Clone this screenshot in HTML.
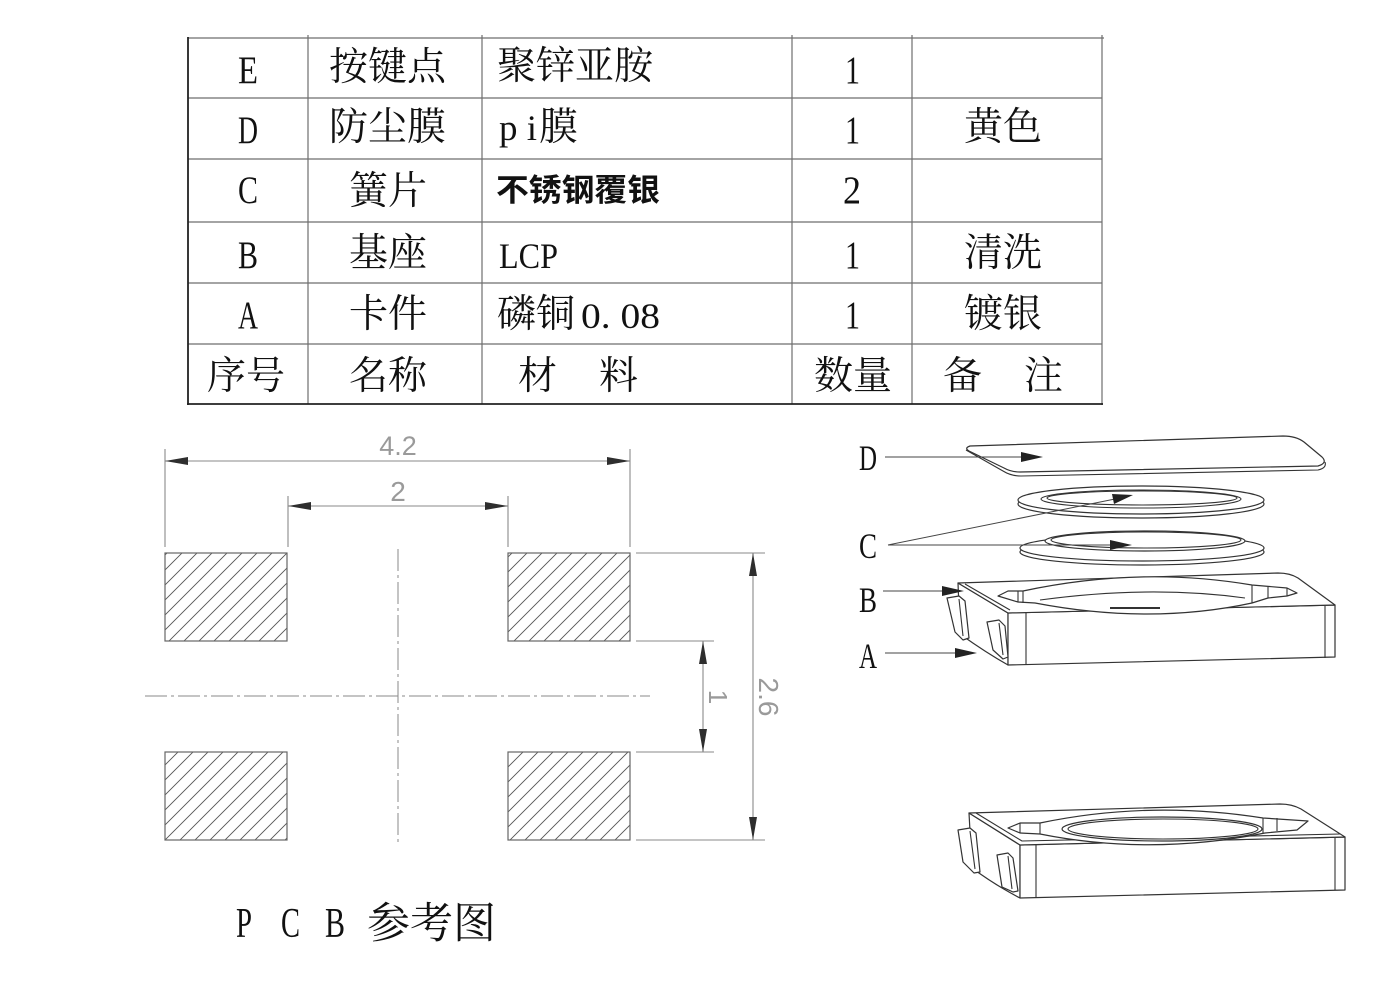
<!DOCTYPE html>
<html>
<head>
<meta charset="utf-8">
<style>
html,body{margin:0;padding:0;background:#fff;}
svg{display:block;}
.t{font-family:"Liberation Serif","Noto Serif CJK SC",serif;fill:#111;}
.cj{font-family:"Liberation Serif","Noto Serif CJK SC",serif;fill:#111;font-size:39px;}
.dim{font-family:"Liberation Sans",sans-serif;fill:#9a9a9a;}
.ln{stroke:#333;stroke-width:1.2;fill:#fff;stroke-linejoin:round;}
.lo{stroke:#333;stroke-width:1.1;fill:none;stroke-linejoin:round;}
</style>
</head>
<body>
<svg width="1400" height="1000" viewBox="0 0 1400 1000" xmlns="http://www.w3.org/2000/svg">
<defs>
<pattern id="hatch" patternUnits="userSpaceOnUse" width="15" height="15">
<path d="M0,15 L15,0 M-3,3 L3,-3 M12,18 L18,12" stroke="#555" stroke-width="0.9"/>
</pattern>
</defs>
<rect width="1400" height="1000" fill="#fff"/>

<!-- TABLE -->
<g stroke="#6e6e6e" stroke-width="1.2">
<line x1="188" y1="38" x2="1104" y2="38"/>
<line x1="188" y1="98" x2="1102" y2="98"/>
<line x1="188" y1="159" x2="1102" y2="159"/>
<line x1="188" y1="222" x2="1102" y2="222"/>
<line x1="188" y1="283" x2="1102" y2="283"/>
<line x1="188" y1="344" x2="1102" y2="344"/>
<line x1="308" y1="35" x2="308" y2="404"/>
<line x1="482" y1="35" x2="482" y2="404"/>
<line x1="792" y1="35" x2="792" y2="404"/>
<line x1="912" y1="35" x2="912" y2="404"/>
<line x1="1102" y1="35" x2="1102" y2="405"/>
</g>
<line x1="188" y1="37" x2="188" y2="405" stroke="#222" stroke-width="1.8"/>
<line x1="187" y1="404" x2="1103" y2="404" stroke="#222" stroke-width="1.8"/>

<!-- col1 letters -->
<g class="t" style="font-size:39px">
<text x="238" y="83" textLength="20" lengthAdjust="spacingAndGlyphs">E</text>
<text x="238" y="143" textLength="20" lengthAdjust="spacingAndGlyphs">D</text>
<text x="238" y="203" textLength="20" lengthAdjust="spacingAndGlyphs">C</text>
<text x="238" y="268" textLength="20" lengthAdjust="spacingAndGlyphs">B</text>
<text x="238" y="328" textLength="20" lengthAdjust="spacingAndGlyphs">A</text>
<!-- quantities -->
<text x="845" y="83" textLength="15" lengthAdjust="spacingAndGlyphs">1</text>
<text x="845" y="143" textLength="15" lengthAdjust="spacingAndGlyphs">1</text>
<text x="843" y="203" textLength="18" lengthAdjust="spacingAndGlyphs">2</text>
<text x="845" y="268" textLength="15" lengthAdjust="spacingAndGlyphs">1</text>
<text x="845" y="328" textLength="15" lengthAdjust="spacingAndGlyphs">1</text>
</g>
<g class="t" style="font-size:36px">
<!-- material latin -->
<text x="499" y="140" textLength="38" lengthAdjust="spacingAndGlyphs">p i</text>
<text x="499" y="268" textLength="59" lengthAdjust="spacingAndGlyphs">LCP</text>
<text x="581" y="328" textLength="79" lengthAdjust="spacingAndGlyphs">0. 08</text>
</g>

<g class="cj">
<text x="329" y="80">按键点</text>
<text x="329" y="140">防尘膜</text>
<text x="349" y="204">簧片</text>
<text x="349" y="266">基座</text>
<text x="349" y="327">卡件</text>
<text x="207" y="389">序号</text>
<text x="349" y="389">名称</text>

<text x="497" y="79">聚锌亚胺</text>
<text x="539" y="140">膜</text>
<text x="497" y="327">磷铜</text>
<text x="518" y="389">材</text>
<text x="599" y="389">料</text>

<text x="814" y="389">数量</text>

<text x="964" y="140">黄色</text>
<text x="964" y="266">清洗</text>
<text x="964" y="327">镀银</text>
<text x="943" y="389">备</text>
<text x="1024" y="389">注</text>
</g>
<text x="496" y="201" style="font-family:'Liberation Sans','Noto Sans CJK SC',sans-serif;font-weight:bold;font-size:31px" fill="#111" textLength="164" lengthAdjust="spacingAndGlyphs">不锈钢覆银</text>

<!-- PCB DRAWING -->
<g stroke="#666" stroke-width="1.2" fill="url(#hatch)">
<rect x="165" y="553" width="122" height="88"/>
<rect x="508" y="553" width="122" height="88"/>
<rect x="165" y="752" width="122" height="88"/>
<rect x="508" y="752" width="122" height="88"/>
</g>
<g stroke="#8a8a8a" stroke-width="1" stroke-dasharray="22 4 3 4">
<line x1="398" y1="549" x2="398" y2="843"/>
<line x1="145" y1="696" x2="650" y2="696"/>
</g>
<g stroke="#8a8a8a" stroke-width="1.1">
<line x1="165" y1="449" x2="165" y2="547"/>
<line x1="630" y1="449" x2="630" y2="547"/>
<line x1="165" y1="461" x2="630" y2="461"/>
<line x1="288" y1="496" x2="288" y2="547"/>
<line x1="508" y1="496" x2="508" y2="547"/>
<line x1="288" y1="506" x2="508" y2="506"/>
<line x1="636" y1="553" x2="765" y2="553"/>
<line x1="636" y1="840" x2="765" y2="840"/>
<line x1="753" y1="553" x2="753" y2="840"/>
<line x1="636" y1="641" x2="714" y2="641"/>
<line x1="636" y1="752" x2="714" y2="752"/>
<line x1="703" y1="641" x2="703" y2="752"/>
</g>
<g fill="#2e2e2e">
<polygon points="165,461 188,457 188,465"/>
<polygon points="630,461 607,457 607,465"/>
<polygon points="288,506 311,502 311,510"/>
<polygon points="508,506 485,502 485,510"/>
<polygon points="753,553 749,576 757,576"/>
<polygon points="753,840 749,817 757,817"/>
<polygon points="703,641 699,664 707,664"/>
<polygon points="703,752 699,729 707,729"/>
</g>
<text class="dim" x="398" y="455" style="font-size:27px" text-anchor="middle">4.2</text>
<text class="dim" x="398" y="501" style="font-size:28px" text-anchor="middle">2</text>
<text class="dim" transform="translate(709,697) rotate(90)" style="font-size:26px" text-anchor="middle">1</text>
<text class="dim" transform="translate(759,697) rotate(90)" style="font-size:28px" text-anchor="middle">2.6</text>

<!-- PCB caption -->
<g class="t" style="font-size:42px">
<text x="236" y="937" textLength="16" lengthAdjust="spacingAndGlyphs">P</text>
<text x="281" y="937" textLength="19" lengthAdjust="spacingAndGlyphs">C</text>
<text x="325" y="937" textLength="20" lengthAdjust="spacingAndGlyphs">B</text>
</g>
<text class="cj" x="367" y="938" style="font-size:43px">参考图</text>

<!-- EXPLODED VIEW -->
<path class="lo" d="M966,450 L1003,471 Q1011,476 1021,476 L1318,470 Q1327,468 1325,462"/>
<path class="ln" d="M970,446 L1283,436 Q1296,436 1304,442 L1322,457 Q1328,463 1318,466 L1020,472 Q1011,472 1004,468 L969,451 Q964,448 970,446 Z"/>

<ellipse class="ln" cx="1141" cy="504" rx="123" ry="14"/>
<ellipse class="ln" cx="1141" cy="500" rx="123" ry="14"/>
<ellipse class="lo" cx="1141" cy="499" rx="100" ry="9"/>
<ellipse class="lo" cx="1142" cy="498" rx="95" ry="7" stroke-width="0.8"/>

<ellipse class="ln" cx="1142" cy="552" rx="122" ry="13"/>
<ellipse class="ln" cx="1142" cy="548" rx="122" ry="13"/>
<ellipse class="ln" cx="1145" cy="541" rx="100" ry="10"/>
<ellipse class="lo" cx="1146" cy="540" rx="95" ry="8" stroke-width="0.8"/>

<!-- base B -->
<path class="ln" d="M958,583 L1008,613 L1008,665 Q985,652 960,634 Z"/>
<path class="ln" d="M1008,613 L1335,605 L1335,657 L1008,665 Z"/>
<line class="lo" x1="1026" y1="613" x2="1026" y2="665"/>
<line class="lo" x1="1325" y1="606" x2="1325" y2="658"/>
<path class="ln" d="M958,583 L1278,573 Q1290,573 1298,578 L1335,605 L1008,613 Z"/>
<path class="lo" d="M965,584 L1010,610" stroke-width="0.8"/>
<path class="ln" d="M998,596 L1008,591 L1023,591 Q1140,566 1252,585 L1287,588 L1297,593 L1287,596 L1268,598 L1252,603 Q1150,625 1035,603 L1018,602 Z"/>
<line class="lo" x1="1018" y1="591" x2="1018" y2="602" stroke-width="0.8"/>
<line class="lo" x1="1023" y1="591" x2="1023" y2="603" stroke-width="0.8"/>
<line class="lo" x1="1252" y1="585" x2="1252" y2="603" stroke-width="0.8"/>
<line class="lo" x1="1268" y1="587" x2="1268" y2="598" stroke-width="0.8"/>
<line class="lo" x1="1287" y1="588" x2="1287" y2="596" stroke-width="0.8"/>
<path class="lo" d="M1040,600 Q1150,585 1245,598" stroke-width="0.8"/>
<line x1="1110" y1="608" x2="1160" y2="608" stroke="#333" stroke-width="2"/>
<path class="ln" d="M947,598 L959,596 L965,601 L969,638 L963,640 L955,632 Z"/>
<line class="lo" x1="959" y1="599" x2="963" y2="636" stroke-width="0.8"/>
<path class="ln" d="M987,622 L999,620 L1005,626 L1008,657 L1003,659 L993,650 Z"/>
<line class="lo" x1="999" y1="623" x2="1003" y2="655" stroke-width="0.8"/>

<g class="t" style="font-size:36px">
<text x="859" y="470" textLength="18" lengthAdjust="spacingAndGlyphs">D</text>
<text x="859" y="558" textLength="18" lengthAdjust="spacingAndGlyphs">C</text>
<text x="859" y="612" textLength="18" lengthAdjust="spacingAndGlyphs">B</text>
<text x="859" y="668" textLength="18" lengthAdjust="spacingAndGlyphs">A</text>
</g>
<g stroke="#444" stroke-width="1">
<line x1="885" y1="457" x2="1025" y2="457"/>
<line x1="888" y1="545" x2="1115" y2="499"/>
<line x1="888" y1="545" x2="1112" y2="545"/>
<line x1="883" y1="591" x2="945" y2="591"/>
<line x1="885" y1="653" x2="957" y2="653"/>
</g>
<g fill="#222">
<polygon points="1043,457 1021,452 1021,462"/>
<polygon points="1133,495 1112,494 1114,504"/>
<polygon points="1132,545 1110,540 1110,550"/>
<polygon points="964,591 942,586 942,596"/>
<polygon points="977,653 955,648 955,658"/>
</g>

<!-- ASSEMBLED VIEW -->
<path class="ln" d="M969,813 L1020,845 L1020,898 Q995,885 972,868 Z"/>
<path class="ln" d="M1020,845 L1345,837 L1345,890 L1020,898 Z"/>
<line class="lo" x1="1036" y1="845" x2="1036" y2="898"/>
<line class="lo" x1="1335" y1="838" x2="1335" y2="890"/>
<path class="ln" d="M969,813 L1280,804 Q1292,804 1301,809 L1345,837 L1020,845 Z"/>
<path class="lo" d="M976,813 L1022,841 L1340,834" stroke-width="0.8"/>
<path class="ln" d="M1008,828 L1020,823 L1040,823 Q1150,800 1263,818 L1308,821 L1297,830 L1265,833 Q1150,856 1040,834 L1020,833 Z"/>
<line class="lo" x1="1020" y1="823" x2="1020" y2="833" stroke-width="0.8"/>
<line class="lo" x1="1040" y1="823" x2="1040" y2="834" stroke-width="0.8"/>
<line class="lo" x1="1263" y1="818" x2="1263" y2="833" stroke-width="0.8"/>
<line class="lo" x1="1277" y1="818" x2="1277" y2="831" stroke-width="0.8"/>
<ellipse class="ln" cx="1162" cy="829" rx="100" ry="12"/>
<ellipse class="lo" cx="1163" cy="829" rx="95" ry="10" stroke-width="0.8"/>
<path class="ln" d="M958,830 L970,828 L976,833 L980,872 L974,873 L963,862 Z"/>
<line class="lo" x1="970" y1="831" x2="975" y2="869" stroke-width="0.8"/>
<path class="ln" d="M997,855 L1008,853 L1013,858 L1018,891 L1013,892 L1002,887 Z"/>
<line class="lo" x1="1008" y1="856" x2="1012" y2="889" stroke-width="0.8"/>
</svg>
</body>
</html>
